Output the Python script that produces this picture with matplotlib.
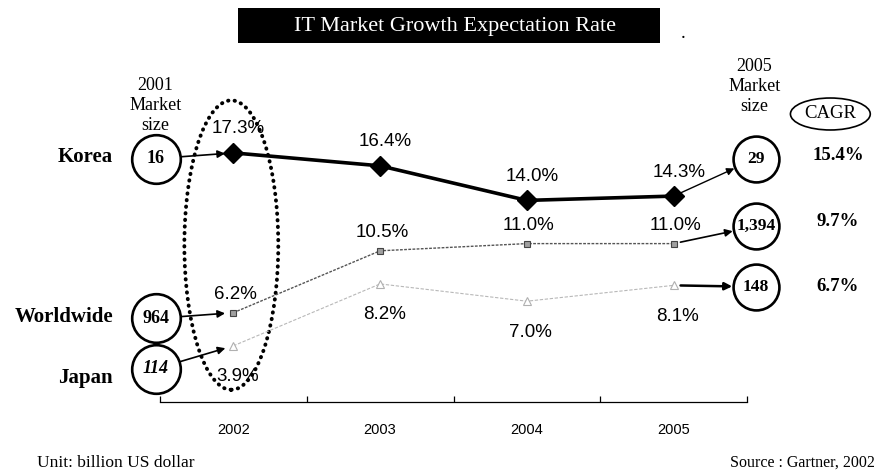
import numpy as np
import matplotlib as mpl
import matplotlib.pyplot as plt
from matplotlib.patches import Ellipse, Rectangle

# growth rate by year [%]
years     = ['2002', '2003', '2004', '2005']
korea     = [17.3, 16.4, 14.0, 14.3]
worldwide = [6.2, 10.5, 11.0, 11.0]
japan     = [3.9, 8.2, 7.0, 8.1]

regions   = ['Korea', 'Worldwide', 'Japan']
size_2001 = ['16', '964', '114']      # billion US dollar
size_2005 = ['29', '1,394', '148']
cagr      = ['15.4%', '9.7%', '6.7%']

SERIF = ['Liberation Serif', 'DejaVu Serif']
SANS  = ['Liberation Sans', 'DejaVu Sans']
NARROW = ['Liberation Sans Narrow', 'Liberation Sans', 'DejaVu Sans']

# vertical placement (data units) of the row labels / size bubbles
row_label_y = [17.0, 5.9, 1.7]
left_bub_y  = [16.9, 5.8, 2.3]
right_bub_y = [16.9, 12.2, 8.0]
cagr_y      = [17.1, 12.5, 8.0]
x_label     = -0.82
x_left_bub  = -0.53
x_right_bub = 3.56
x_cagr      = 4.12

def main():
    W, H = 878, 474
    fig = plt.figure(figsize=(W/100, H/100), dpi=100)
    fig.patch.set_facecolor('white')

    # axes: x axis from px 160 to 747, baseline at px 402
    ax = fig.add_axes([160/W, (H-402)/H, 587/W, (402-60)/H])
    ax.set_xlim(-0.5, 3.5)
    ax.set_ylim(0, (402-60)/14.4)
    for s in ['top', 'left', 'right']:
        ax.spines[s].set_visible(False)
    ax.spines['bottom'].set_linewidth(0.9)
    ax.set_yticks([])
    x = np.arange(len(years))
    ax.set_xticks(x)
    ax.set_xticklabels(years, family=NARROW, fontsize=10.5)
    ax.set_xticks(np.arange(-0.5, len(years), 1.0), minor=True)
    ax.tick_params(axis='x', which='major', length=0, pad=15)
    ax.tick_params(axis='x', which='minor', direction='in', length=4, width=0.9)

    # series lines
    ax.plot(x, japan, color='#b8b8b8', lw=0.8, ls=(0, (3, 1.5)),
            marker='^', ms=6, mfc='white', mec='#b0b0b0', mew=0.8, clip_on=False, zorder=3)
    ax.plot(x, worldwide, color='#555555', lw=1.0, ls=(0, (2, 1)),
            marker='s', ms=5, mfc='#a0a0a0', mec='#444444', mew=0.8, clip_on=False, zorder=3)
    ax.plot(x, korea, color='black', lw=2.6, marker='D', ms=10,
            mfc='black', mec='black', clip_on=False, zorder=4)

    # value labels
    pct_kw = dict(textcoords='offset pixels', ha='center', va='center',
                  family=SANS, fontsize=13.5, annotation_clip=False)
    for i, v in enumerate(korea):
        ax.annotate(f'{v:.1f}%', (x[i], v), xytext=(5, 24), **pct_kw)
    for i, v in enumerate(worldwide):
        ax.annotate(f'{v:.1f}%', (x[i], v), xytext=(2, 18), **pct_kw)
    for i, v in enumerate(japan):
        ax.annotate(f'{v:.1f}%', (x[i], v), xytext=(4, -31), **pct_kw)

    # dotted ring around 2002
    ax.add_patch(Ellipse((-0.014, 10.9), 0.64, 20.1, fill=False, ec='black',
                         lw=2.8, ls=(0, (0.1, 1.6)), capstyle='round', clip_on=False, zorder=2))

    # headers
    hdr_kw = dict(ha='center', va='center', family=SERIF, fontsize=13,
                  linespacing=1.25, clip_on=False)
    ax.text(x_left_bub, 20.6, '2001\nMarket\nsize', **hdr_kw)
    ax.text(x_right_bub - 0.01, 21.9, '2005\nMarket\nsize', **hdr_kw)
    ax.add_patch(Ellipse((4.068, 20.0), 0.544, 2.22, fill=False, ec='black',
                         lw=1.2, clip_on=False))
    ax.text(4.068, 20.0, 'CAGR', ha='center', va='center', family=SERIF,
            fontsize=13.5, clip_on=False)

    series = [korea, worldwide, japan]
    arrow_lw = [1.0, 1.2, 1.8]
    for r, name in enumerate(regions):
        ax.text(x_label, row_label_y[r], name, ha='right', va='center',
                family=SERIF, fontsize=15, fontweight='bold', clip_on=False)

        # 2001 bubble and arrow to the 2002 point
        ax.plot(x_left_bub, left_bub_y[r], 'o', ms=35, mfc='white', mec='black',
                mew=1.9, clip_on=False, zorder=5)
        ax.text(x_left_bub, left_bub_y[r], size_2001[r], ha='center', va='center',
                family=SERIF, fontsize=13, fontweight='bold', fontstyle='italic' if r == 2 else 'normal',
                clip_on=False, zorder=6)
        ax.annotate('', xy=(x[0], series[r][0]), xytext=(x_left_bub, left_bub_y[r]),
                    arrowprops=dict(arrowstyle='-|>', color='black', lw=1.2,
                                    mutation_scale=11, shrinkA=18, shrinkB=6),
                    annotation_clip=False, zorder=4)

        # 2005 bubble, arrow from the 2005 point
        ax.plot(x_right_bub, right_bub_y[r], 'o', ms=33, mfc='white', mec='black',
                mew=1.9, clip_on=False, zorder=5)
        ax.text(x_right_bub, right_bub_y[r], size_2005[r], ha='center', va='center',
                family=SERIF, fontsize=12.5, fontweight='bold', clip_on=False, zorder=6)
        ax.annotate('', xy=(x_right_bub, right_bub_y[r]), xytext=(x[-1], series[r][-1]),
                    arrowprops=dict(arrowstyle='-|>', color='black', lw=arrow_lw[r],
                                    mutation_scale=11, shrinkA=5, shrinkB=17),
                    annotation_clip=False, zorder=4)

        ax.text(x_cagr, cagr_y[r], cagr[r], ha='center', va='center', family=SERIF,
                fontsize=13.5, fontweight='bold', clip_on=False)

    # title bar
    fig.add_artist(Rectangle((238/W, (H-43)/H), 422/W, 35/H, transform=fig.transFigure,
                             facecolor='black', edgecolor='none'))
    fig.text(455/W, (H-26)/H, 'IT Market Growth Expectation Rate', color='white',
             ha='center', va='center', family=SERIF, fontsize=16)
    fig.text(683/W, (H-34)/H, '.', ha='center', va='center', family=SERIF, fontsize=14)

    # footnotes
    fig.text(37/W, (H-463)/H, 'Unit: billion US dollar', ha='left', va='center',
             family=SERIF, fontsize=12.5)
    fig.text(875/W, (H-463)/H, 'Source : Gartner, 2002', ha='right', va='center',
             family=SERIF, fontsize=11.5)

    fig.savefig('out.png', dpi=100)

if __name__ == '__main__':
    main()
